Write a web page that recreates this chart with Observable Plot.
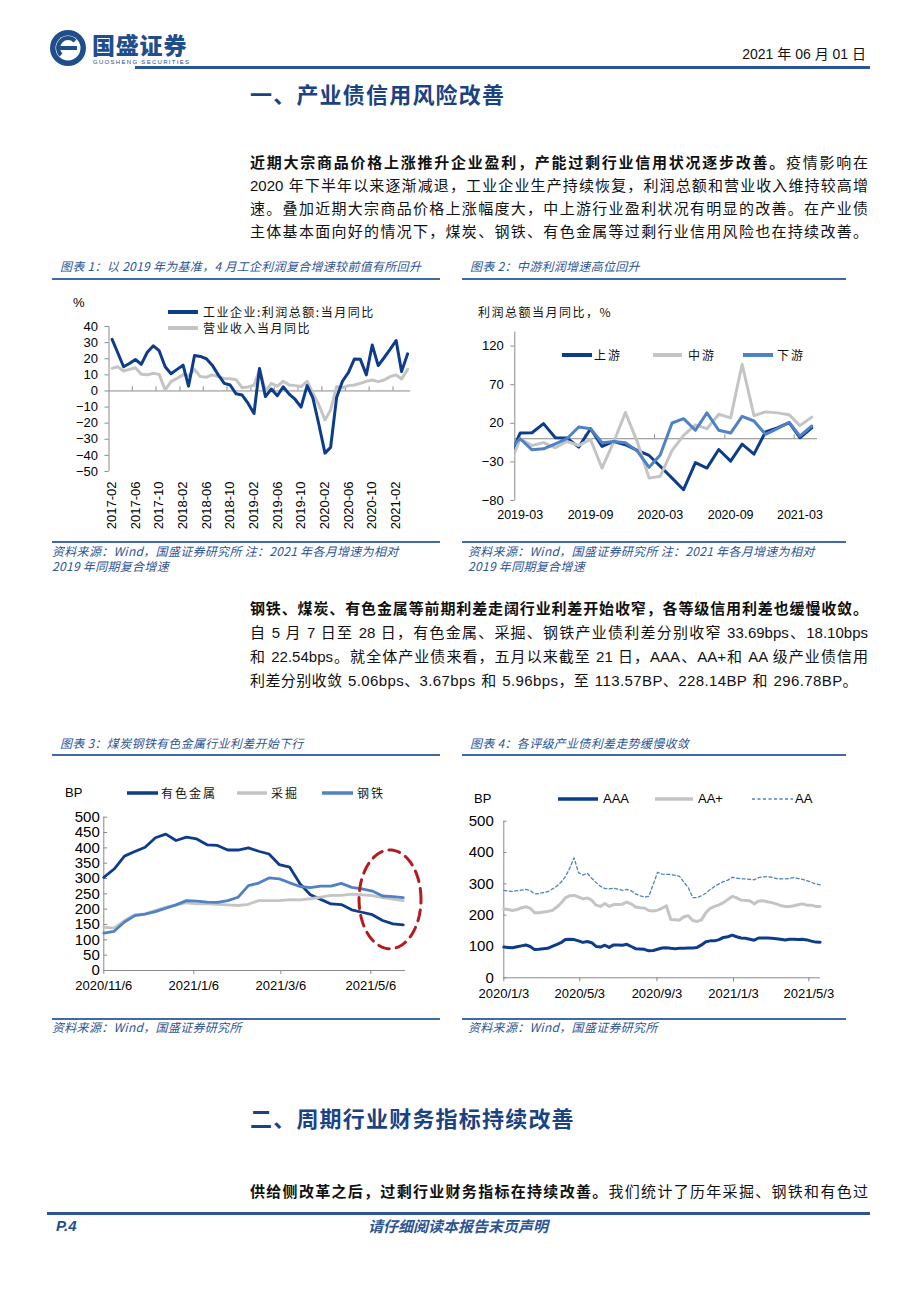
<!DOCTYPE html>
<html lang="zh-CN">
<head>
<meta charset="utf-8">
<title>产业债信用风险改善</title>
<script src="https://cdn.jsdelivr.net/npm/d3@7"></script>
<script src="https://cdn.jsdelivr.net/npm/@observablehq/plot@0.6"></script>
<style>
html,body{margin:0;padding:0;background:#fff;}
body{width:920px;height:1302px;position:relative;overflow:hidden;font-family:"Noto Sans CJK SC",sans-serif;color:#111;}
.a{position:absolute;white-space:nowrap;line-height:1;}
.bar{position:absolute;}
.h1{font-size:22px;font-weight:700;color:#1b4282;letter-spacing:1.2px;}
.p{position:absolute;left:250px;width:618px;height:22px;line-height:22px;font-size:15px;white-space:nowrap;text-align:justify;text-align-last:justify;font-family:"Liberation Sans","Noto Sans CJK SC",sans-serif;color:#111;}
.p b{font-weight:700;}
.ct{font-size:12px;font-style:italic;color:#2e5594;letter-spacing:0.3px;}
.lg{font-size:12px;letter-spacing:1.5px;color:#111;}
.ax{font-family:"Liberation Sans",Arial,sans-serif;font-size:13px;color:#000;}
svg.sw{position:absolute;overflow:visible;}
</style>
</head>
<body>
<!-- header -->
<svg class="sw" style="left:48px;top:28px" width="40" height="40" viewBox="0 0 40 40">
  <circle cx="20" cy="20" r="18" fill="#1f4e8c"/>
  <circle cx="20" cy="20" r="12.5" fill="#fff"/>
  <path d="M27 13 A9 9 0 1 0 13 27" fill="none" stroke="#1f4e8c" stroke-width="4"/>
  <rect x="12" y="18" width="17" height="4" fill="#1f4e8c"/>
</svg>
<div class="a" style="left:92px;top:33px;font-size:23px;font-weight:900;color:#1f4e8c;letter-spacing:0.8px">国盛证券</div>
<div class="a" style="left:93px;top:59px;font-size:6px;letter-spacing:1.3px;color:#1f4e8c;font-family:'Liberation Sans'">GUOSHENG SECURITIES</div>
<div class="a" style="right:54px;top:47px;font-size:14px;font-family:'Liberation Sans','Noto Sans CJK SC'">2021 年 06 月 01 日</div>
<div class="bar" style="left:135px;top:66px;width:735px;height:3px;background:#2b5596"></div>

<div class="a h1" style="left:250px;top:82px">一、产业债信用风险改善</div>

<div class="p" style="top:152px"><b>近期大宗商品价格上涨推升企业盈利，产能过剩行业信用状况逐步改善。</b>疫情影响在</div>
<div class="p" style="top:175px">2020 年下半年以来逐渐减退，工业企业生产持续恢复，利润总额和营业收入维持较高增</div>
<div class="p" style="top:198px">速。叠加近期大宗商品价格上涨幅度大，中上游行业盈利状况有明显的改善。在产业债</div>
<div class="p" style="top:221px">主体基本面向好的情况下，煤炭、钢铁、有色金属等过剩行业信用风险也在持续改善。</div>

<!-- chart titles row 1 -->
<div class="a ct" style="left:60px;top:260px">图表 1：以 2019 年为基准，4 月工企利润复合增速较前值有所回升</div>
<div class="bar" style="left:52px;top:278px;width:388px;height:2px;background:#4069a8"></div>
<div class="a ct" style="left:470px;top:260px">图表 2：中游利润增速高位回升</div>
<div class="bar" style="left:462px;top:278px;width:384px;height:2px;background:#4069a8"></div>

<div class="a ax" style="left:73px;top:296px">%</div>
<svg class="sw" style="left:168px;top:310px" width="30" height="4"><line x1="0" y1="2" x2="30" y2="2" stroke="#0c3c8a" stroke-width="4"/></svg>
<div class="a lg" style="left:203px;top:306px">工业企业:利润总额:当月同比</div>
<svg class="sw" style="left:168px;top:326px" width="30" height="4"><line x1="0" y1="2" x2="30" y2="2" stroke="#c4c4c4" stroke-width="4"/></svg>
<div class="a lg" style="left:203px;top:322px">营业收入当月同比</div>

<div class="a lg" style="left:478px;top:306px">利润总额当月同比，%</div>
<svg class="sw" style="left:562px;top:353px" width="30" height="4"><line x1="0" y1="2" x2="30" y2="2" stroke="#0c3c8a" stroke-width="4"/></svg>
<div class="a lg" style="left:594px;top:349px;letter-spacing:2px">上游</div>
<svg class="sw" style="left:653px;top:353px" width="30" height="4"><line x1="0" y1="2" x2="29" y2="2" stroke="#c4c4c4" stroke-width="4"/></svg>
<div class="a lg" style="left:688px;top:349px;letter-spacing:2px">中游</div>
<svg class="sw" style="left:743px;top:353px" width="30" height="4"><line x1="0" y1="2" x2="30" y2="2" stroke="#4f81c4" stroke-width="4"/></svg>
<div class="a lg" style="left:777px;top:349px;letter-spacing:2px">下游</div>

<div class="bar" style="left:52px;top:541px;width:388px;height:2px;background:#4069a8"></div>
<div class="a ct" style="left:52px;top:545px">资料来源：Wind，国盛证券研究所 注：2021 年各月增速为相对</div>
<div class="a ct" style="left:52px;top:560px">2019 年同期复合增速</div>
<div class="bar" style="left:462px;top:541px;width:384px;height:2px;background:#4069a8"></div>
<div class="a ct" style="left:468px;top:545px">资料来源：Wind，国盛证券研究所 注：2021 年各月增速为相对</div>
<div class="a ct" style="left:468px;top:560px">2019 年同期复合增速</div>

<div class="p" style="top:598px"><b>钢铁、煤炭、有色金属等前期利差走阔行业利差开始收窄，各等级信用利差也缓慢收敛。</b></div>
<div class="p" style="top:622px">自 5 月 7 日至 28 日，有色金属、采掘、钢铁产业债利差分别收窄 33.69bps、18.10bps</div>
<div class="p" style="top:646px">和 22.54bps。就全体产业债来看，五月以来截至 21 日，AAA、AA+和 AA 级产业债信用</div>
<div class="p" style="top:670px;text-align:left;text-align-last:left;letter-spacing:0.4px;word-spacing:1px">利差分别收敛 5.06bps、3.67bps 和 5.96bps，至 113.57BP、228.14BP 和 296.78BP。</div>

<!-- chart titles row 2 -->
<div class="a ct" style="left:60px;top:737px">图表 3：煤炭钢铁有色金属行业利差开始下行</div>
<div class="bar" style="left:52px;top:754px;width:388px;height:2px;background:#4069a8"></div>
<div class="a ct" style="left:470px;top:737px">图表 4：各评级产业债利差走势缓慢收敛</div>
<div class="bar" style="left:462px;top:754px;width:384px;height:2px;background:#4069a8"></div>

<div class="a ax" style="left:65px;top:786px">BP</div>
<svg class="sw" style="left:127px;top:791px" width="31" height="4"><line x1="0" y1="2" x2="31" y2="2" stroke="#0c3c8a" stroke-width="3.5"/></svg>
<div class="a lg" style="left:161px;top:787px;letter-spacing:2px">有色金属</div>
<svg class="sw" style="left:237px;top:791px" width="30" height="4"><line x1="0" y1="2" x2="30" y2="2" stroke="#c4c4c4" stroke-width="3.5"/></svg>
<div class="a lg" style="left:271px;top:787px;letter-spacing:2px">采掘</div>
<svg class="sw" style="left:322px;top:791px" width="31" height="4"><line x1="0" y1="2" x2="31" y2="2" stroke="#4f81c4" stroke-width="3.5"/></svg>
<div class="a lg" style="left:357px;top:787px;letter-spacing:2px">钢铁</div>

<div class="a ax" style="left:474px;top:792px">BP</div>
<svg class="sw" style="left:558px;top:797px" width="40" height="4"><line x1="0" y1="2" x2="40" y2="2" stroke="#0c3c8a" stroke-width="3.5"/></svg>
<div class="a ax" style="left:603px;top:792px">AAA</div>
<svg class="sw" style="left:655px;top:797px" width="38" height="4"><line x1="0" y1="2" x2="38" y2="2" stroke="#c4c4c4" stroke-width="3.5"/></svg>
<div class="a ax" style="left:698px;top:792px">AA+</div>
<svg class="sw" style="left:752px;top:797px" width="41" height="4"><line x1="0" y1="2" x2="41" y2="2" stroke="#4f81c4" stroke-width="1.3" stroke-dasharray="3,2.5"/></svg>
<div class="a ax" style="left:795px;top:792px">AA</div>

<div class="bar" style="left:52px;top:1018px;width:388px;height:2px;background:#4069a8"></div>
<div class="a ct" style="left:52px;top:1021px">资料来源：Wind，国盛证券研究所</div>
<div class="bar" style="left:462px;top:1018px;width:384px;height:2px;background:#4069a8"></div>
<div class="a ct" style="left:468px;top:1021px">资料来源：Wind，国盛证券研究所</div>

<div class="a h1" style="left:250px;top:1106px">二、周期行业财务指标持续改善</div>
<div class="p" style="top:1181px"><b>供给侧改革之后，过剩行业财务指标在持续改善。</b>我们统计了历年采掘、钢铁和有色过</div>

<div class="bar" style="left:47px;top:1212px;width:823px;height:3px;background:#2b5596"></div>
<div class="a" style="left:56px;top:1218px;font-size:15px;font-weight:700;font-style:italic;color:#1f4e8c;font-family:'Liberation Sans'">P.4</div>
<div class="a" style="left:368px;top:1218px;font-size:15px;font-weight:700;font-style:italic;color:#2e5594">请仔细阅读本报告末页声明</div>

<script>
// ---------------- data ----------------
// Chart 1: monthly, 2017-02 .. 2021-04
const c1Start = "2017-02-01";
const c1Profit = [32, 24, 15, 17, 19.5, 16.5, 24, 28, 25, 15, 10.7,
  13.4, 16, 3, 22, 21.4, 20, 16, 10, 4.7, 3.7, -1.8, -2.5,
  -7.6, -14, 14, -3.5, 1.2, -3, 2.6, -2, -5.3, -10, 3.3, -4.5,
  -21, -38.6, -35, -4, 6, 11.5, 19.8, 19.6, 10, 28.5, 15.7, 20.6,
  25.8, 31.3, 12, 23];
const c1Revenue = [14, 15, 12.4, 13.4, 14.4, 10.3, 10, 11, 10.3, 0.6, 5.8,
  7.8, 10, 9.5, 13.4, 8.9, 8.5, 10, 8.9, 7.8, 7.5, 7, 2,
  2.5, 3.5, 13, 0, 4.7, 3, 6, 3.7, 3.3, 2.7, 6, -1.4,
  -8.7, -18, -11.8, 2.7, 2, 3.3, 3.7, 4.7, 6, 6.8, 5.8, 6.8,
  8.9, 10, 7.4, 13.4];
const c1TickLabels = ["2017-02","2017-06","2017-10","2018-02","2018-06","2018-10","2019-02","2019-06","2019-10","2020-02","2020-06","2020-10","2021-02"];
const c1YTicks = [-50, -40, -30, -20, -10, 0, 10, 20, 30, 40];

// Chart 2: monthly, 2019-02 .. 2021-04
const c2Start = "2019-02-01";
const c2Up = [-25, 7.4, 7.8, 19.6, 1.3, 0.9, -10.9, 13, -10, -3.5, -7.8,
  -15, -21.7, -35.6, -51, -66, -31, -38, -14, -29, -7, -20, 8.7,
  14, 21, 1.3, 14];
const c2Mid = [-35, 0, -8.7, -5, -11.7, -3.5, -8.7, -1, -38, -3.5, 34,
  -4, -51, -48.7, -15, 4.3, 18, 13, 31.7, 27, 96.5, 30, 34.8,
  33.5, 31, 17, 28];
const c2Down = [-13.4, 0, -14.3, -13, -6.5, 0, 15.2, 13, -5.2, -3.5, -5.2,
  -16, -37, -21, 20.4, 26, 11, 33.5, 11, 7.4, 29, 23, 5.7,
  13, 21, 3.5, 16.5];
const c2TickLabels = ["2019-03","2019-09","2020-03","2020-09","2021-03"];
const c2YTicks = [-80, -30, 20, 70, 120];

// Chart 3: weekly from 2020-11-06
const c3Start = "2020-11-06";
const c3Metal = [304, 331, 373, 388, 402, 433, 445, 424, 435, 429, 410, 408, 393, 393, 400,
  389, 380, 345, 337, 283, 247, 232, 217, 215, 198, 190, 182, 163, 152, 149];
const c3Mining = [141, 138, 163, 182, 185, 196, 207, 214, 221, 217, 217, 216, 214, 212, 216,
  228, 228, 228, 231, 230, 234, 239, 245, 245, 249, 247, 244, 238, 233, 228];
const c3Steel = [122, 128, 158, 179, 184, 192, 203, 214, 228, 226, 223, 222, 228, 239, 277,
  285, 302, 299, 286, 274, 270, 275, 275, 284, 271, 266, 259, 243, 241, 238];
const c3TickLabels = ["2020-11-06","2021-01-06","2021-03-06","2021-05-06"];
const c3YTicks = [0, 50, 100, 150, 200, 250, 300, 350, 400, 450, 500];

// Chart 4: weekly from 2020-01-03
const c4Start = "2020-01-03";
const c4AAA = [98, 97, 96, 99, 102, 105, 100, 90, 91, 93,
  94, 100, 106, 112, 122, 123, 122, 118, 113, 116,
  112, 100, 98, 104, 97, 105, 105, 104, 107, 100,
  93, 92, 91, 86, 87, 91, 95, 96, 94, 93,
  94, 94, 95, 95, 97, 105, 115, 118, 118, 122,
  129, 131, 136, 131, 127, 126, 123, 120, 127, 127,
  127, 126, 125, 123, 121, 123, 123, 122, 123, 121,
  117, 114, 113.6];
const c4AAp = [220, 218, 215, 218, 223, 227, 222, 208, 208, 210,
  212, 215, 225, 238, 255, 262, 263, 258, 252, 255,
  248, 232, 228, 237, 228, 234, 234, 235, 242, 236,
  226, 224, 223, 215, 213, 216, 222, 230, 186, 185,
  184, 195, 198, 183, 180, 185, 208, 222, 228, 233,
  240, 250, 260, 255, 248, 247, 246, 236, 245, 246,
  243, 240, 236, 231, 228, 228, 230, 233, 236, 232,
  232, 228, 228];
const c4AA = [279, 277, 276, 278, 280, 282, 279, 268, 269, 272,
  275, 283, 292, 305, 322, 350, 383, 336, 328, 334,
  318, 304, 292, 285, 284, 286, 283, 279, 282, 278,
  268, 262, 258, 260, 298, 337, 331, 330, 330, 327,
  324, 305, 288, 256, 256, 262, 270, 282, 292, 300,
  307, 312, 321, 318, 316, 316, 314, 313, 320, 322,
  323, 321, 317, 316, 316, 317, 320, 317, 314, 310,
  305, 300, 297];
const c4TickLabels = ["2020-01-03","2020-05-03","2020-09-03","2021-01-03","2021-05-03"];
const c4YTicks = [0, 100, 200, 300, 400, 500];

// annotation ellipse (chart 3), in data units
const ellCenter = "2021-05-19", ellRxDays = 21, ellCy = 232, ellRy = 161;

// ---------------- helpers ----------------
const DK = "#0c3c8a", MD = "#4f81c4", GY = "#c4c4c4", AXC = "#8a8a8a";
const FONT = "'Liberation Sans', Arial, sans-serif";
const U = s => new Date(s + (s.length === 7 ? "-01" : "") + "T00:00:00Z");
const DAY = 864e5;
const shift = (d, days) => new Date(+d + days * DAY);
const sty = fs => ({fontFamily: FONT, fontSize: fs + "px", color: "#000", background: "transparent", overflow: "visible"});
function mount(svg, left, top) {
  svg.style.position = "absolute";
  svg.style.left = left + "px";
  svg.style.top = top + "px";
  svg.style.maxWidth = "none";
  document.body.appendChild(svg);
}
const slashFmt = d => `${d.getUTCFullYear()}/${d.getUTCMonth() + 1}/${d.getUTCDate()}`;

// ---------------- chart 1 ----------------
{
  const months = c1Profit.map((_, i) => d3.utcMonth.offset(U(c1Start), i));
  const data = months.map((d, i) => ({date: d, profit: c1Profit[i], revenue: c1Revenue[i]}));
  const ticks = c1TickLabels.map(U);
  const x0 = shift(U(c1Start), -16), x1 = shift(months[months.length - 1], 15);
  const between = ticks.slice(1).map(d => shift(d, -16));
  const svg = Plot.plot({
    width: 400, height: 240,
    marginLeft: 68.5, marginTop: 26, marginBottom: 69, marginRight: 30,
    x: {type: "utc", domain: [x0, x1]},
    y: {domain: [-50, 40]},
    style: sty(13),
    marks: [
      Plot.ruleY([0], {stroke: AXC}),
      Plot.ruleX([x0], {stroke: AXC}),
      Plot.ruleX(between, {x: d => d, y1: 0, y2: 2.5, stroke: AXC}),
      Plot.axisY({ticks: c1YTicks, tickSize: 4, tickPadding: 7, stroke: AXC, label: null}),
      Plot.axisX({ticks, tickFormat: d3.utcFormat("%Y-%m"), tickRotate: -90, tickSize: 0, tickPadding: 10, label: null}),
      Plot.line(data, {x: "date", y: "revenue", stroke: GY, strokeWidth: 3}),
      Plot.line(data, {x: "date", y: "profit", stroke: DK, strokeWidth: 3})
    ]
  });
  mount(svg, 40, 300);
}

// ---------------- chart 2 ----------------
{
  const months = c2Up.map((_, i) => d3.utcMonth.offset(U(c2Start), i));
  const data = months.map((d, i) => ({date: d, up: c2Up[i], mid: c2Mid[i], down: c2Down[i]}));
  const ticks = c2TickLabels.map(U);
  const x0 = shift(U(c2Start), 14), x1 = shift(months[months.length - 1], 15);
  const between = ticks.slice(1).map(d => shift(d, -15));
  const svg = Plot.plot({
    width: 390, height: 215,
    marginLeft: 64.3, marginTop: 11.7, marginBottom: 35, marginRight: 23,
    x: {type: "utc", domain: [x0, x1]},
    y: {domain: [-80, 138]},
    style: sty(13),
    marks: [
      Plot.ruleY([0], {stroke: AXC}),
      Plot.ruleX([x0], {stroke: AXC}),
      Plot.ruleX(between, {x: d => d, y1: 0, y2: 5, stroke: AXC}),
      Plot.axisY({ticks: c2YTicks, tickSize: 4, tickPadding: 7, stroke: AXC, label: null}),
      Plot.axisX({ticks, tickFormat: d3.utcFormat("%Y-%m"), tickSize: 0, tickPadding: 10, label: null, fontSize: 12.5}),
      Plot.line(data, {x: "date", y: "up", stroke: DK, strokeWidth: 3, clip: true}),
      Plot.line(data, {x: "date", y: "mid", stroke: GY, strokeWidth: 3, clip: true}),
      Plot.line(data, {x: "date", y: "down", stroke: MD, strokeWidth: 3, clip: true})
    ]
  });
  mount(svg, 450, 320);
}

// ---------------- chart 3 ----------------
{
  const weeks = c3Metal.map((_, i) => shift(U(c3Start), 7 * i));
  const data = weeks.map((d, i) => ({date: d, metal: c3Metal[i], mining: c3Mining[i], steel: c3Steel[i]}));
  const ticks = c3TickLabels.map(U);
  const x0 = U(c3Start), x1 = shift(weeks[weeks.length - 1], 1.5);
  const ell = d3.range(0, 361, 3).map(a => ({
    date: shift(U(ellCenter), ellRxDays * Math.cos(a * Math.PI / 180)),
    v: ellCy + ellRy * Math.sin(a * Math.PI / 180)
  }));
  const svg = Plot.plot({
    width: 400, height: 210,
    marginLeft: 63.3, marginTop: 16.7, marginBottom: 40, marginRight: 35,
    x: {type: "utc", domain: [x0, x1]},
    y: {domain: [0, 500]},
    style: sty(13),
    marks: [
      Plot.ruleY([0], {stroke: AXC}),
      Plot.ruleX([x0], {stroke: AXC}),
      Plot.ruleY(c3YTicks, {y: d => d, x1: x0, x2: shift(x0, 2.6), stroke: AXC}),
      Plot.axisY({ticks: c3YTicks, tickSize: 0, tickPadding: 4, label: null, fontSize: 15}),
      Plot.axisX({ticks, tickFormat: slashFmt, tickSize: 4, tickPadding: 6, stroke: AXC, label: null, fontSize: 13}),
      Plot.line(data, {x: "date", y: "metal", stroke: DK, strokeWidth: 2.8}),
      Plot.line(data, {x: "date", y: "mining", stroke: GY, strokeWidth: 2.8}),
      Plot.line(data, {x: "date", y: "steel", stroke: MD, strokeWidth: 2.8}),
      Plot.line(ell, {x: "date", y: "v", stroke: "#b31b1e", strokeWidth: 3, strokeDasharray: "11,7"})
    ]
  });
  mount(svg, 40, 800);
}

// ---------------- chart 4 ----------------
{
  const weeks = c4AAA.map((_, i) => shift(U(c4Start), 7 * i));
  const data = weeks.map((d, i) => ({date: d, aaa: c4AAA[i], aap: c4AAp[i], aa: c4AA[i]}));
  const ticks = c4TickLabels.map(U);
  const x0 = U(c4Start), x1 = shift(weeks[weeks.length - 1], 0.6);
  const svg = Plot.plot({
    width: 390, height: 210,
    marginLeft: 53.3, marginTop: 15.7, marginBottom: 37.7, marginRight: 20,
    x: {type: "utc", domain: [x0, x1]},
    y: {domain: [0, 500]},
    style: sty(13),
    marks: [
      Plot.ruleY([0], {stroke: AXC}),
      Plot.ruleX([x0], {stroke: AXC}),
      Plot.ruleY(c4YTicks, {y: d => d, x1: x0, x2: shift(x0, 5), stroke: AXC}),
      Plot.axisY({ticks: c4YTicks, tickSize: 0, tickPadding: 10, label: null, fontSize: 15}),
      Plot.axisX({ticks, tickFormat: slashFmt, tickSize: 4, tickPadding: 7, stroke: AXC, label: null, fontSize: 13}),
      Plot.line(data, {x: "date", y: "aaa", stroke: DK, strokeWidth: 3}),
      Plot.line(data, {x: "date", y: "aap", stroke: GY, strokeWidth: 3}),
      Plot.line(data, {x: "date", y: "aa", stroke: MD, strokeWidth: 1.3, strokeDasharray: "3,2.5"})
    ]
  });
  mount(svg, 450, 805);
}
</script>
</body>
</html>
